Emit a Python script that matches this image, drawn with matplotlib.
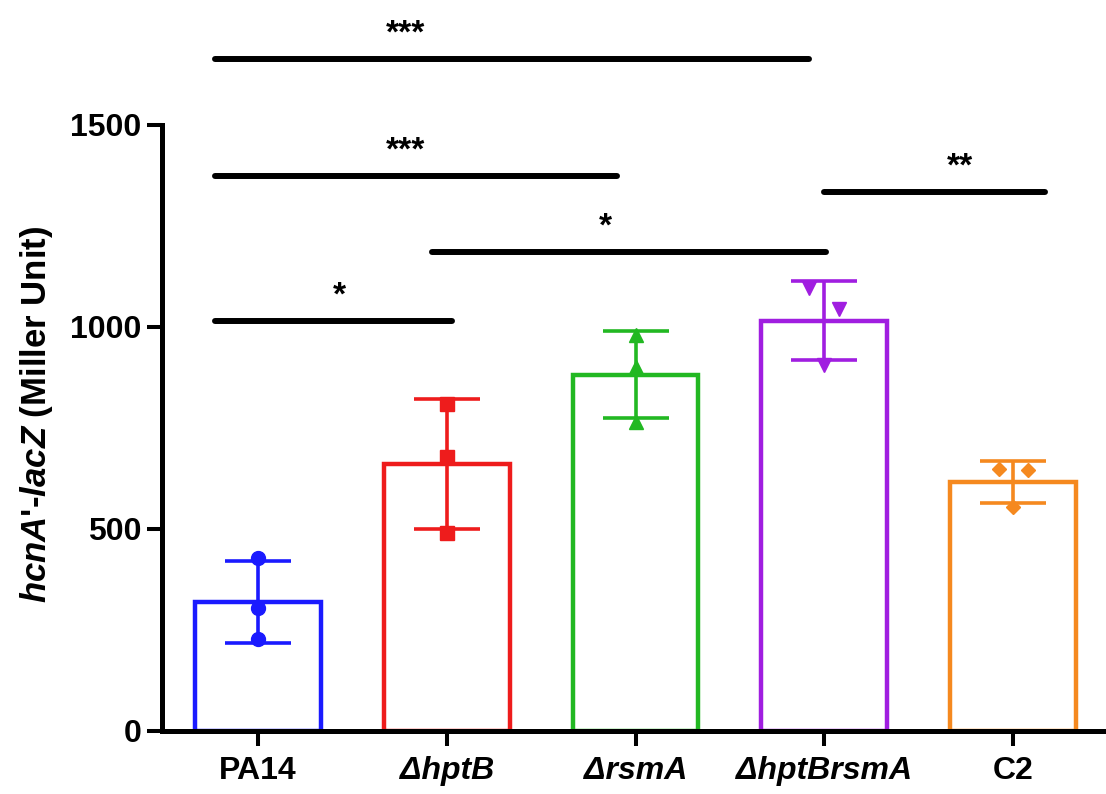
import matplotlib
matplotlib.use("Agg")
import matplotlib.pyplot as plt
import numpy as np

plt.rcParams['font.family'] = ['Liberation Sans', 'DejaVu Sans']
plt.rcParams['font.weight'] = 'bold'
plt.rcParams['mathtext.fontset'] = 'custom'
plt.rcParams['mathtext.bfit'] = 'Liberation Sans:bold:italic'
plt.rcParams['mathtext.bf'] = 'Liberation Sans:bold'
plt.rcParams['mathtext.it'] = 'Liberation Sans:italic'
plt.rcParams['mathtext.rm'] = 'Liberation Sans:bold'

# ---- data ----
categories = ["PA14", "ΔhptB", "ΔrsmA", "ΔhptBrsmA", "C2"]
italic_labels = [False, True, True, True, False]
pa14 = [428, 304, 227]
hptB = [810, 678, 490]
rsmA = [980, 900, 765]
hptBrsmA = [1095, 1045, 905]
c2 = [648, 645, 555]
replicates = [pa14, hptB, rsmA, hptBrsmA, c2]
point_offsets = [[0, 0, 0], [0, 0, 0], [0, 0, 0], [-0.08, 0.08, 0], [-0.075, 0.08, 0]]
colors = ["#1a1aff", "#ee1c1c", "#22b822", "#a01ee0", "#f5891f"]
markers = ["o", "s", "^", "v", "D"]
marker_sizes = [10, 10, 10, 10, 7]

yticks = [0, 500, 1000, 1500]

# significance brackets
sig_x1 = [-0.23, -0.23, 0.92, -0.23, 3.0]
sig_x2 = [2.92, 1.90, 3.01, 1.03, 4.17]
sig_y = [1662, 1373, 1185, 1014, 1333]
sig_text = ["***", "***", "*", "*", "**"]
sig_text_x = [0.78, 0.78, 1.84, 0.43, 3.72]

# ---- figure ----
fig = plt.figure(figsize=(11.06, 7.94), dpi=100)
ax = fig.add_axes([162/1106, 1-731/794, 1-162/1106, 731/794])

x = np.arange(len(categories))
means = [np.mean(r) for r in replicates]
sds = [np.std(r, ddof=1) for r in replicates]

ax.bar(x, means, width=0.667, fill=False, edgecolor=colors, linewidth=3.2, zorder=2)
for i in range(len(categories)):
    ax.errorbar(x[i], means[i], yerr=sds[i], fmt='none', ecolor=colors[i],
                elinewidth=2.6, capsize=24, capthick=2.6, zorder=3)
    px = x[i] + np.array(point_offsets[i])
    ax.plot(px, replicates[i], linestyle='none', marker=markers[i], color=colors[i],
            markersize=marker_sizes[i], zorder=4, clip_on=False)

for x1, x2, y, t, tx in zip(sig_x1, sig_x2, sig_y, sig_text, sig_text_x):
    ax.plot([x1, x2], [y, y], color='black', linewidth=4.3, solid_capstyle='round',
            clip_on=False, zorder=5)
    ax.text(tx, y + 40, t, ha='center', va='baseline', fontsize=24,
            fontweight='bold', color='black')

ax.set_xlim(-0.509, 4.493)
ax.set_ylim(0, 731/0.4043)
ax.spines['top'].set_visible(False)
ax.spines['right'].set_visible(False)
ax.spines['left'].set_bounds(0, 1500)
for s in ['left', 'bottom']:
    ax.spines[s].set_linewidth(3.6)
    ax.spines[s].set_zorder(6)

ax.set_yticks(yticks)
ax.set_yticklabels([str(v) for v in yticks])
ax.set_xticks(x)
ax.set_xticklabels(categories)
ax.tick_params(axis='both', length=11, width=2.9, labelsize=23, pad=4)
ax.tick_params(axis='x', pad=7)
for lab, it in zip(ax.get_xticklabels(), italic_labels):
    lab.set_fontweight('bold')
    if it:
        lab.set_fontstyle('italic')
for lab in ax.get_yticklabels():
    lab.set_fontweight('bold')

fig.text(37/1106, 1-414/794, r"$\mathbfit{hcnA}$'-$\mathbfit{lacZ}$ (Miller Unit)",
         rotation=90, ha='center', va='center', fontsize=25, fontweight='bold')

fig.savefig("out.png", dpi=100)
